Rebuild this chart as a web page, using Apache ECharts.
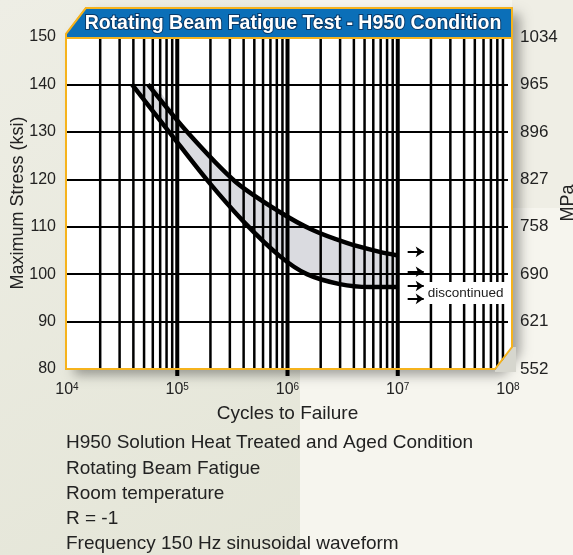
<!DOCTYPE html>
<html><head><meta charset="utf-8">
<script src="https://cdn.jsdelivr.net/npm/echarts@6/dist/echarts.min.js"></script>
<style>html,body{margin:0;padding:0;background:#f3f2ea;}#c{width:573px;height:555px;}</style>
</head><body><div id="c"></div>
<script>
// ---- data ----
const xExponents = [4, 5, 6, 7, 8];
const yTicksKsi = [80, 90, 100, 110, 120, 130, 140, 150];
const yTicksMPa = ['552', '621', '690', '758', '827', '896', '965', '1034'];
const upperCurve = [[5.42e4,140],[1.25e5,129.8],[3.33e5,119.6],[8.51e5,113.1],[1.69e6,109.3],[3.44e6,106.6],[6.86e6,104.7],[9.77e6,104.0]];
const lowerCurve = [[3.88e4,140],[8.57e4,129.8],[1.90e5,119.6],[4.10e5,110.8],[8.51e5,103.8],[1.50e6,100.0],[2.98e6,97.9],[5.57e6,97.3],[9.77e6,97.3]];
const arrowStarts = [[1.23e7,104.7],[1.23e7,100.5],[1.23e7,97.5],[1.23e7,94.8]];
const arrowEndX = 1.72e7;
const labelPoint = [1.83e7, 96.0];
const labelText = 'discontinued';
const decades = [1e4, 1e5, 1e6, 1e7];
const majorLines = [1e5, 1e6, 1e7];
const minorMult = [2, 3, 4, 5, 6, 7, 8, 9];
const titleText = 'Rotating Beam Fatigue Test - H950 Condition';
const noteLines = ['H950 Solution Heat Treated and Aged Condition','Rotating Beam Fatigue','Room temperature','R = -1','Frequency 150 Hz sinusoidal waveform'];

const FONT = '"Liberation Sans", Arial, Helvetica, sans-serif';
const vLines = [];
decades.forEach(d => minorMult.forEach(m => vLines.push([d * m, 0])));
majorLines.forEach(d => vLines.push([d, 1]));
const upperArea = [[lowerCurve[0][0], lowerCurve[0][1]]].concat(upperCurve);

const chart = echarts.init(document.getElementById('c'));
const graphics = [
  {type:'rect', z:-100, shape:{x:0,y:0,width:300,height:555}, style:{fill:new echarts.graphic.LinearGradient(0,0,1,1,[{offset:0,color:'#eeeee5'},{offset:1,color:'#e4e5d7'}])}},
  {type:'rect', z:-100, shape:{x:300,y:0,width:273,height:555}, style:{fill:'#f6f5ee'}},
  {type:'rect', z:-100, shape:{x:512,y:0,width:61,height:208}, style:{fill:'#efeee5'}},
  {type:'polygon', z:-50, shape:{points:[[66,34],[86,8],[512,8],[512,347],[495,369],[66,369]]},
    style:{fill:'#ffffff', shadowBlur:12, shadowOffsetX:8, shadowOffsetY:6, shadowColor:'rgba(0,0,0,0.35)'}},
  {type:'polygon', z:40, shape:{points:[[495,370],[513,347],[516,347],[516,372],[495,372]]}, style:{fill:'#d6d6ce'}},
  {type:'polyline', z:45, shape:{points:[[66,34],[86,8],[512,8],[512,347],[495,369],[66,369],[66,34]]},
    style:{stroke:'#f6b31c', lineWidth:2, fill:null}},
  {type:'polygon', z:50, shape:{points:[[66,38],[66,34],[86,8],[512,8],[512,38]]}, style:{fill:'#0b6fb8', stroke:'#f6b31c', lineWidth:2}},
  {type:'text', z:55, style:{text:titleText, x:293, y:24, align:'center', verticalAlign:'middle', font:'bold 19.5px ' + FONT, fill:'#ffffff', stroke:'#083a6a', lineWidth:2}}
];
noteLines.forEach((t, i) => graphics.push({type:'text', z:10, style:{text:t, x:66, y:443 + i * 25.3, align:'left', verticalAlign:'middle', font:'19px ' + FONT, fill:'#222'}}));

chart.setOption({
  animation: false,
  grid: {left: 67, right: 65, top: 37, bottom: 186, containLabel: false, outerBoundsMode: 'none'},
  graphic: graphics,
  xAxis: {
    type: 'log', logBase: 10, min: 1e4, max: 1e8,
    name: 'Cycles to Failure', nameLocation: 'middle', nameGap: 35, nameMoveOverlap: false,
    nameTextStyle: {fontSize: 19, color: '#222', fontFamily: FONT},
    axisLine: {show: false}, axisTick: {show: false}, splitLine: {show: false},
    axisLabel: {
      margin: 13, hideOverlap: false,
      formatter: v => { const e = Math.round(Math.log10(v)); return xExponents.indexOf(e) >= 0 ? '{b|10}{s|' + e + '}' : ''; },
      rich: {b: {fontSize: 16, color: '#222', fontFamily: FONT}, s: {fontSize: 10, color: '#222', fontFamily: FONT, verticalAlign: 'top'}}
    }
  },
  yAxis: [{
    type: 'value', min: 80, max: 150, interval: 10, position: 'left',
    name: 'Maximum Stress (ksi)', nameLocation: 'middle', nameGap: 40, nameRotate: 90, nameMoveOverlap: false,
    nameTextStyle: {fontSize: 18, color: '#222', fontFamily: FONT},
    axisLine: {show: false}, axisTick: {show: false},
    axisLabel: {margin: 11, fontSize: 16, color: '#222', fontFamily: FONT, formatter: v => String(yTicksKsi[yTicksKsi.indexOf(v)])},
    splitLine: {show: true, lineStyle: {color: '#000', width: 2}}
  }, {
    type: 'value', min: 80, max: 150, interval: 10, position: 'right',
    name: 'MPa', nameLocation: 'middle', nameGap: 51, nameRotate: 90, nameMoveOverlap: false,
    nameTextStyle: {fontSize: 18, color: '#222', fontFamily: FONT},
    axisLine: {show: false}, axisTick: {show: false},
    axisLabel: {margin: 12, fontSize: 17, color: '#222', fontFamily: FONT, formatter: v => yTicksMPa[yTicksKsi.indexOf(v)]},
    splitLine: {show: false}
  }],
  series: [
    {type: 'line', z: -20, data: upperArea, smooth: 0.3, symbol: 'none', lineStyle: {width: 0},
      areaStyle: {color: '#dadbe0', opacity: 1, origin: 'start'}, silent: true},
    {type: 'line', z: -19, data: lowerCurve, smooth: 0.3, symbol: 'none', lineStyle: {width: 0},
      areaStyle: {color: '#ffffff', opacity: 1, origin: 'start'}, silent: true},
    {type: 'custom', z: 5, data: vLines, silent: true,
      renderItem: (params, api) => {
        const v = api.value(0), major = api.value(1);
        const p1 = api.coord([v, 150]), p2 = api.coord([v, 80]);
        return {type: 'line', shape: {x1: p1[0], y1: p1[1], x2: p2[0], y2: p2[1] + (major ? 7 : 0)},
          style: {stroke: '#000', lineWidth: major ? 4 : 2.5}};
      }},
    {type: 'line', z: 20, data: upperCurve, smooth: 0.3, symbol: 'none', lineStyle: {color: '#000', width: 4.5}, silent: true},
    {type: 'line', z: 20, data: lowerCurve, smooth: 0.3, symbol: 'none', lineStyle: {color: '#000', width: 4.5}, silent: true},
    {type: 'lines', coordinateSystem: 'cartesian2d', z: 20, silent: true,
      symbol: ['none', 'arrow'], symbolSize: 8,
      lineStyle: {color: '#000', width: 2, opacity: 1},
      data: arrowStarts.map(a => ({coords: [[a[0], a[1]], [arrowEndX, a[1]]]}))},
    {type: 'custom', z: 30, data: [labelPoint], silent: true,
      renderItem: (params, api) => {
        const p = api.coord([api.value(0), api.value(1)]);
        return {type: 'text', style: {text: labelText, x: p[0], y: p[1], align: 'left', verticalAlign: 'middle',
          font: '13.5px ' + FONT, fill: '#222', backgroundColor: '#fff', padding: [4, 3, 4, 1]}};
      }}
  ]
});
</script></body></html>
